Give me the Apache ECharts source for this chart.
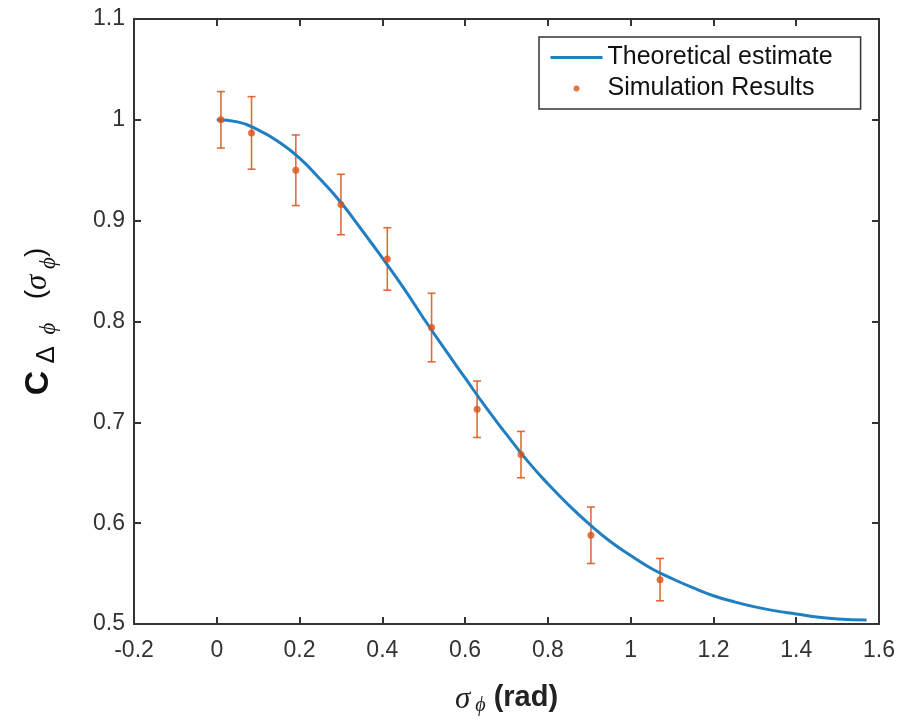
<!DOCTYPE html>
<html>
<head>
<meta charset="utf-8">
<script src="https://cdn.jsdelivr.net/npm/echarts@6/dist/echarts.min.js"></script>
<style>
  html, body { margin: 0; padding: 0; background: #fff; }
  #chart { width: 899px; height: 724px; }
</style>
</head>
<body>
<div id="chart"></div>
<script>
// theoretical curve
var curveX = [0, 0.05, 0.1, 0.15, 0.2, 0.25, 0.3, 0.35, 0.4, 0.45, 0.5, 0.55, 0.6, 0.65, 0.7, 0.75,
  0.8, 0.85, 0.9, 0.95, 1.0, 1.05, 1.1, 1.15, 1.2, 1.25, 1.3, 1.35, 1.4, 1.45, 1.5, 1.57];
var curveY = [1.000, 0.998, 0.990, 0.978, 0.962, 0.941, 0.918, 0.891, 0.863, 0.834, 0.803, 0.773,
  0.744, 0.715, 0.688, 0.662, 0.639, 0.618, 0.599, 0.582, 0.568, 0.555, 0.545, 0.536, 0.528,
  0.522, 0.517, 0.513, 0.510, 0.507, 0.505, 0.504];

// simulation results with error bars
var simX = [0.01, 0.084, 0.191, 0.300, 0.412, 0.519, 0.629, 0.735, 0.904, 1.071];
var simY = [1.000, 0.987, 0.950, 0.916, 0.862, 0.794, 0.713, 0.668, 0.588, 0.544];
var simErr = [0.028, 0.036, 0.035, 0.030, 0.031, 0.034, 0.028, 0.023, 0.028, 0.021];

var xTicks = { min: -0.2, max: 1.6, interval: 0.2 };
var yTicks = { min: 0.5, max: 1.1, interval: 0.1 };

var axisColor = '#333';
var blue = '#1f7fc2';
var orange = '#d95319';
var sans = '"Liberation Sans", Arial, sans-serif';
var serif = '"Liberation Serif", "Times New Roman", serif';

var curveData = curveX.map(function (x, i) { return [x, curveY[i]]; });
var simData = simX.map(function (x, i) { return [x, simY[i]]; });
var errData = simX.map(function (x, i) { return [x, simY[i] - simErr[i], simY[i] + simErr[i]]; });

function frameAxis(pos, t, main) {
  return {
    type: 'value', position: pos, min: t.min, max: t.max, interval: t.interval,
    axisLine: { show: true, onZero: false, lineStyle: { color: axisColor, width: 2 } },
    axisTick: { show: true, inside: true, length: 7, lineStyle: { color: axisColor, width: 2 } },
    axisLabel: { show: main, color: '#333', fontSize: 23, fontFamily: sans,
      showMinLabel: true, showMaxLabel: true },
    splitLine: { show: false }
  };
}

var xMain = frameAxis('bottom', xTicks, true);
xMain.axisLabel.margin = 15;
xMain.name = '{s|σ}{sub| ϕ}{b| (rad)}';
xMain.nameLocation = 'middle';
xMain.nameGap = 51;
xMain.nameTextStyle = {
  rich: {
    s: { fontSize: 31, fontStyle: 'italic', fontFamily: serif, color: '#222', lineHeight: 32, verticalAlign: 'top' },
    sub: { fontSize: 20, fontStyle: 'italic', fontFamily: serif, color: '#222', lineHeight: 20, padding: [29, 0, 0, 0], verticalAlign: 'bottom' },
    b: { fontSize: 29, fontWeight: 'bold', fontFamily: sans, color: '#222', lineHeight: 32, verticalAlign: 'top' }
  }
};

var yMain = frameAxis('left', yTicks, true);
yMain.axisLabel.margin = 9;
yMain.name = '{c|C}{sub| Δ}{subi|  ϕ}{p|   (}{s|σ}{subi| ϕ}{p|)}';
yMain.nameLocation = 'middle';
yMain.nameRotate = 90;
yMain.nameGap = 74;
yMain.nameTextStyle = {
  rich: {
    c: { fontSize: 34, fontWeight: 'bold', fontFamily: sans, color: '#111', lineHeight: 38, verticalAlign: 'top' },
    sub: { fontSize: 26, fontFamily: sans, color: '#111', lineHeight: 30, padding: [23, 0, 0, 0], verticalAlign: 'bottom' },
    subi: { fontSize: 23, fontStyle: 'italic', fontFamily: serif, color: '#111', lineHeight: 30, padding: [23, 0, 0, 0], verticalAlign: 'bottom' },
    p: { fontSize: 28, fontFamily: sans, color: '#111', lineHeight: 38, verticalAlign: 'top' },
    s: { fontSize: 31, fontStyle: 'italic', fontFamily: serif, color: '#111', lineHeight: 38, verticalAlign: 'top' }
  }
};

var chart = echarts.init(document.getElementById('chart'));
chart.setOption({
  animation: false,
  backgroundColor: '#fff',
  grid: { left: 134, right: 20, top: 19, bottom: 100 },
  legend: {
    orient: 'vertical', left: 539, top: 37,
    padding: [8, 28, 8, 10],
    itemWidth: 52, itemHeight: 6, itemGap: 6,
    borderColor: axisColor, borderWidth: 1.5, backgroundColor: '#fff',
    textStyle: { fontSize: 25, fontFamily: sans, color: '#111', lineHeight: 24 },
    data: [
      { name: 'Theoretical estimate', itemStyle: { opacity: 0 }, lineStyle: { width: 3, color: blue } },
      { name: 'Simulation Results', icon: 'circle' }
    ]
  },
  xAxis: [xMain, frameAxis('top', xTicks, false)],
  yAxis: [yMain, frameAxis('right', yTicks, false)],
  series: [
    {
      name: 'error',
      type: 'custom',
      z: 2,
      data: errData,
      encode: { x: 0, y: [1, 2] },
      renderItem: function (params, api) {
        var x = api.value(0);
        var top = api.coord([x, api.value(2)]);
        var bot = api.coord([x, api.value(1)]);
        var hw = 4;
        var st = { stroke: orange, lineWidth: 1.6, opacity: 0.85 };
        return {
          type: 'group',
          children: [
            { type: 'line', shape: { x1: top[0], y1: top[1], x2: bot[0], y2: bot[1] }, style: st },
            { type: 'line', shape: { x1: top[0] - hw, y1: top[1], x2: top[0] + hw, y2: top[1] }, style: st },
            { type: 'line', shape: { x1: bot[0] - hw, y1: bot[1], x2: bot[0] + hw, y2: bot[1] }, style: st }
          ]
        };
      }
    },
    {
      name: 'Theoretical estimate',
      type: 'line',
      z: 3,
      data: curveData,
      smooth: true,
      symbol: 'none',
      lineStyle: { color: blue, width: 3 },
      itemStyle: { color: blue }
    },
    {
      name: 'Simulation Results',
      type: 'scatter',
      z: 4,
      data: simData,
      symbolSize: 7,
      itemStyle: { color: orange }
    }
  ]
});
</script>
</body>
</html>
